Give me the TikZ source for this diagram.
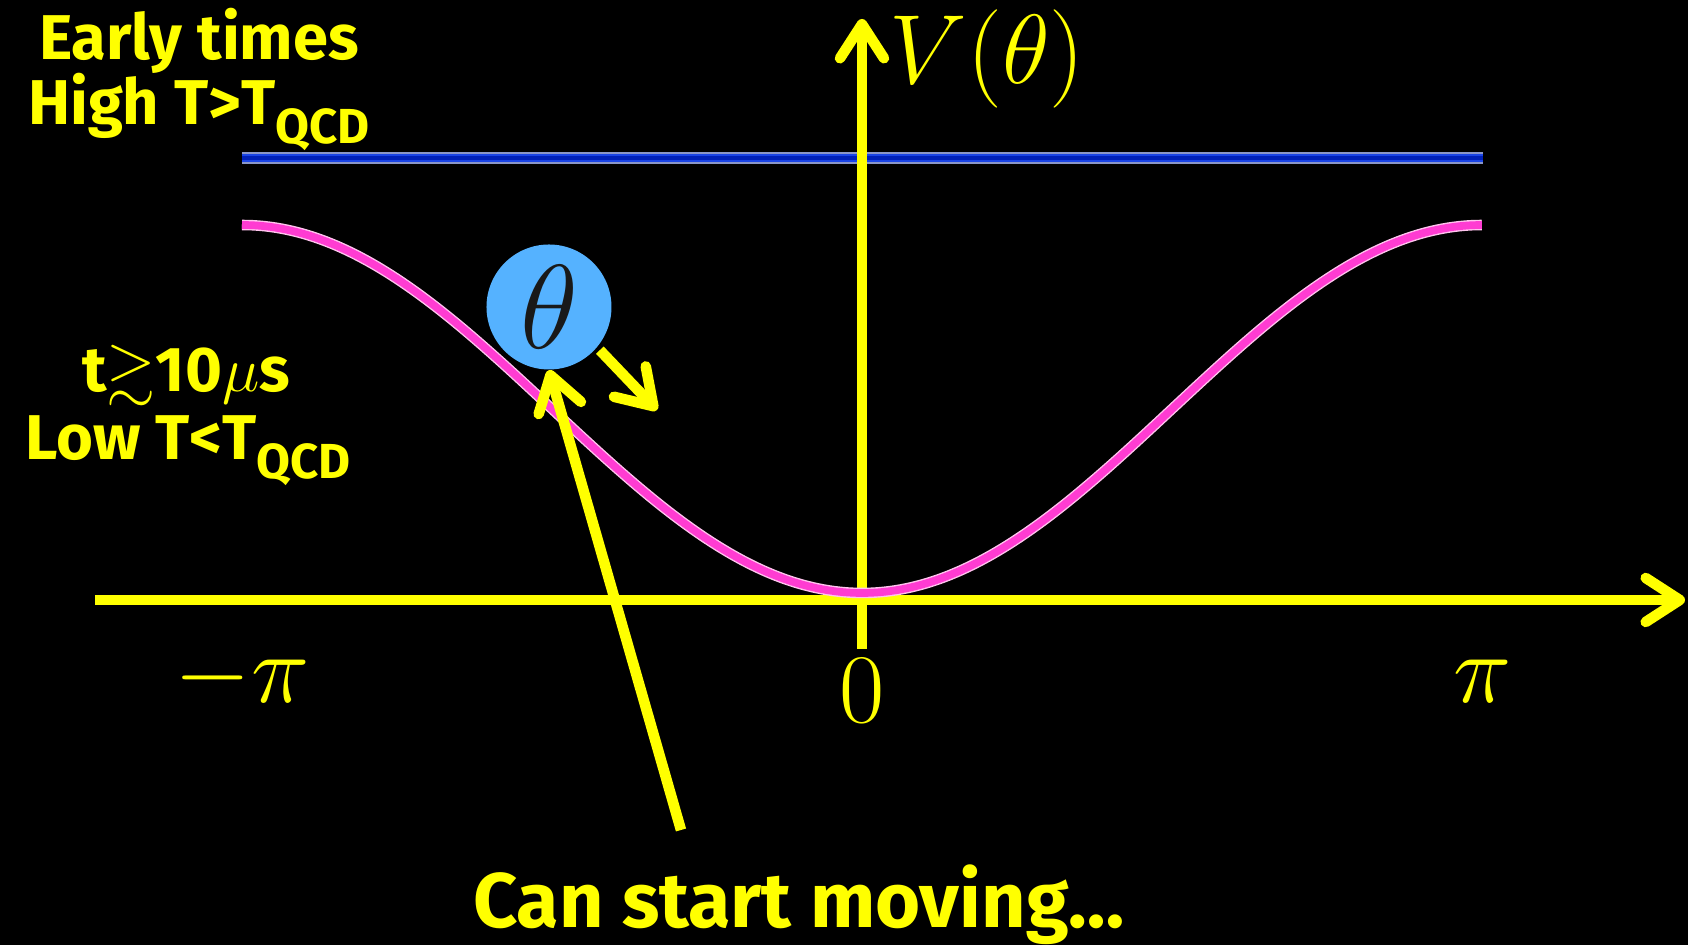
\documentclass[tikz,border=0pt]{standalone}
\usepackage{fix-cm}
\usepackage{amsmath}
\usepackage{amssymb}
\usepackage{fontspec}
\newfontfamily\handfont{Fira Sans}
\usepackage{tikz}
\usetikzlibrary{
	arrows.meta,
	positioning,
	calc
}
\usepackage{xcolor}
\definecolor{sunyellow}{HTML}{FFFF00}
\definecolor{ballblue}{HTML}{55B2FF}
\definecolor{lineblue}{HTML}{1A44E6}
\definecolor{lineedge}{HTML}{8A96C8}
\definecolor{linecore}{HTML}{0020B8}
\definecolor{potpink}{HTML}{FF3CD2}
\definecolor{potedge}{HTML}{FFC4EE}
\newcommand{\qcdsub}{\raisebox{-0.19cm}{\fontsize{14}{14}\selectfont QCD}}

\begin{document}
\begin{tikzpicture}[
		yarrow/.style={line width=3pt, sunyellow,
			-{Straight Barb[length=3.4mm, width=4.4mm, round]}},
		hand/.style={text=sunyellow, inner sep=0pt,
			font=\handfont\bfseries\fontsize{18}{20}\selectfont},
		mathlbl/.style={text=sunyellow, inner sep=0pt,
			font=\fontsize{28}{30}\selectfont}
	]
		
		% Background
		\fill[black] (-8.62,-3.45) rectangle (8.26,6.00);
		\useasboundingbox (-8.62,-3.45) rectangle (8.26,6.00);
		
		% Early-time flat potential
		\draw[line width=3.4pt, lineedge] (-6.20,4.42) -- (6.21,4.42);
		\draw[line width=2.4pt, lineblue] (-6.20,4.42) -- (6.21,4.42);
		\draw[line width=0.9pt, linecore] (-6.20,4.42) -- (6.21,4.42);
		
		% Axes
		\draw[yarrow] (-7.67,0) -- (8.23,0);
		\draw[yarrow] (0,-0.49) -- (0,5.81);
		
		% Late-time tilted potential
		\draw[line width=3pt, potedge]
		plot[domain=-6.2:6.2, samples=120, smooth]
		(\x, {0.07+1.84*(1-cos(\x/6.2*180))});
		\draw[line width=2.2pt, potpink]
		plot[domain=-6.2:6.2, samples=120, smooth]
		(\x, {0.07+1.84*(1-cos(\x/6.2*180))});
		
		% The field
		\node[circle, fill=ballblue, minimum size=1.25cm, inner sep=0pt,
		text=black!90, font=\fontsize{34}{34}\selectfont]
		(ball) at (-3.13,2.93) {$\theta$};
		
		\coordinate (push) at (-2.05,1.90);
		\draw[yarrow, shorten <=1pt] (ball.-40) -- (push);
		
		\coordinate (tail) at (-1.81,-2.30);
		\draw[yarrow] (tail) -- (ball.-90);
		
		% Axis labels
		\node[mathlbl, anchor=base west] (vlabel) at (0.27,5.16) {$V(\theta)$};
		\node[mathlbl, anchor=base] (mpi) at (-6.20,-1.03) {$-\pi$};
		\node[mathlbl, anchor=base] (zero) at (0,-1.23) {$0$};
		\node[mathlbl, anchor=base] (ppi) at (6.21,-1.03) {$\pi$};
		
		% Epochs
		\node[hand, anchor=base] (early) at (-6.63,5.40) {Early times};
		\node[hand, anchor=base] (high) at (-6.63,4.75) {High T>T\qcdsub};
		\node[hand, anchor=base] (late) at (-6.76,2.08) {t$\gtrsim$10$\mu$s};
		\node[hand, anchor=base] (low) at (-6.74,1.40) {Low T<T\qcdsub};
		
		\node[hand, anchor=base, font=\handfont\bfseries\fontsize{22}{24}\selectfont]
		(moving) at (-0.63,-3.28) {Can start moving…};
		
	\end{tikzpicture}
\end{document}
